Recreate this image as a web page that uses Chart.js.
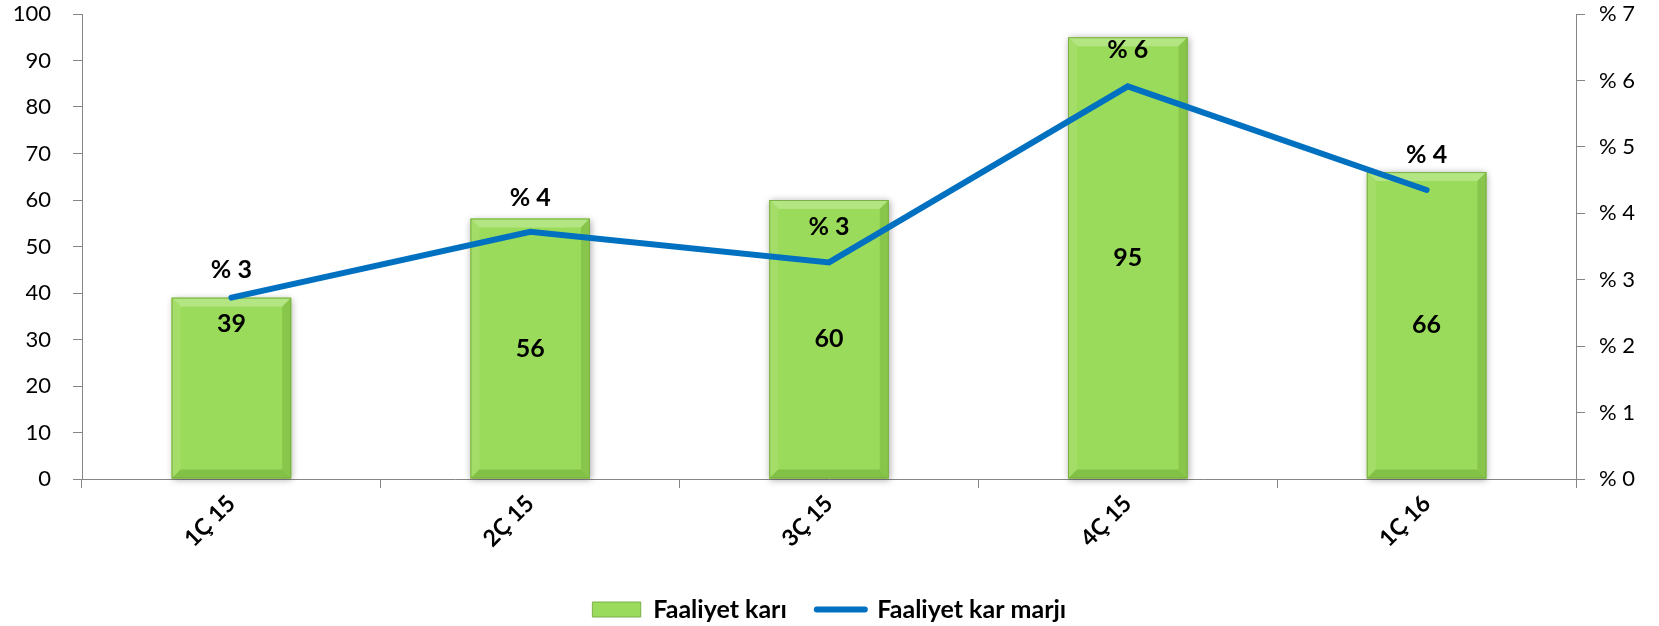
<!DOCTYPE html>
<html><head><meta charset="utf-8">
<script src="https://cdn.jsdelivr.net/npm/chart.js@4/dist/chart.umd.min.js"></script>
<style>html,body{margin:0;padding:0;background:#fff}#wrap{width:1659px;height:626px;position:relative}</style>
</head><body><div id="wrap"><canvas id="c"></canvas></div>
<script>
const categories = ['1Ç 15', '2Ç 15', '3Ç 15', '4Ç 15', '1Ç 16'];
const faaliyetKari = [39, 56, 60, 95, 66];
const faaliyetKarMarji = [2.73, 3.72, 3.26, 5.91, 4.35];
const marjiLabels = ['% 3', '% 4', '% 3', '% 6', '% 4'];
const leftTickValues = [0, 10, 20, 30, 40, 50, 60, 70, 80, 90, 100];
const rightTickLabels = ['% 0', '% 1', '% 2', '% 3', '% 4', '% 5', '% 6', '% 7'];
const seriesNames = ['Faaliyet karı', 'Faaliyet kar marjı'];

const FONT = 'Lato, "Open Sans", sans-serif';
const AXIS = '#868686';

const bevelPlugin = {
  id: 'bevel',
  beforeDatasetDraw(chart, args) {
    if (args.index !== 0) return;
    const ctx = chart.ctx;
    ctx.save();
    ctx.shadowColor = 'rgba(0,0,0,0.35)';
    ctx.shadowBlur = 7;
    ctx.shadowOffsetX = 1;
    ctx.shadowOffsetY = 1;
    ctx.fillStyle = '#9BDB5B';
    args.meta.data.forEach(bar => {
      const p = bar.getProps(['x', 'y', 'base', 'width'], true);
      ctx.fillRect(p.x - p.width / 2, p.y, p.width, p.base - p.y);
    });
    ctx.restore();
  },
  afterDatasetDraw(chart, args) {
    if (args.index !== 0) return;
    const ctx = chart.ctx;
    const poly = (pts, c) => {
      ctx.beginPath();
      ctx.moveTo(pts[0][0], pts[0][1]);
      for (let i = 1; i < pts.length; i++) ctx.lineTo(pts[i][0], pts[i][1]);
      ctx.closePath();
      ctx.fillStyle = c;
      ctx.fill();
    };
    ctx.save();
    args.meta.data.forEach(bar => {
      const p = bar.getProps(['x', 'y', 'base', 'width'], true);
      const l = p.x - p.width / 2, r = p.x + p.width / 2, t = p.y, b = p.base;
      const d = 9;
      poly([[l, t], [r, t], [r - d, t + d], [l + d, t + d]], '#B3E582');
      poly([[l, t], [l + d, t + d], [l + d, b - d], [l, b]], '#A4DE69');
      poly([[r, t], [r, b], [r - d, b - d], [r - d, t + d]], '#88C64B');
      poly([[l, b], [r, b], [r - d, b - d], [l + d, b - d]], '#82C046');
      ctx.strokeStyle = '#7DAF47';
      ctx.lineWidth = 1;
      ctx.strokeRect(l + 0.5, t + 0.5, p.width - 1, b - t - 1);
    });
    ctx.restore();
  }
};

const labelPlugin = {
  id: 'valueLabels',
  afterDatasetsDraw(chart, args, opts) {
    const ctx = chart.ctx;
    ctx.save();
    ctx.fillStyle = '#000';
    ctx.textAlign = 'center';
    ctx.textBaseline = 'middle';
    ctx.font = 'bold 25px ' + FONT;
    const barMeta = chart.getDatasetMeta(0);
    barMeta.data.forEach((bar, i) => {
      const p = bar.getProps(['x', 'y', 'base'], true);
      ctx.fillText(String(faaliyetKari[i]), p.x, (p.y + p.base) / 2 + opts.barShift[i]);
    });
    const lineMeta = chart.getDatasetMeta(1);
    lineMeta.data.forEach((pt, i) => {
      const p = pt.getProps(['x', 'y'], true);
      ctx.fillText(marjiLabels[i], p.x, p.y - opts.lineShift[i]);
    });
    ctx.restore();
  }
};

new Chart(document.getElementById('c'), {
  data: {
    labels: categories,
    datasets: [
      {
        type: 'bar',
        label: seriesNames[0],
        data: faaliyetKari,
        backgroundColor: '#9BDB5B',
        borderWidth: 0,
        barPercentage: 0.8,
        categoryPercentage: 0.5,
        yAxisID: 'y',
        order: 1
      },
      {
        type: 'line',
        label: seriesNames[1],
        data: faaliyetKarMarji,
        borderColor: '#0070C0',
        backgroundColor: '#0070C0',
        borderWidth: 6,
        borderCapStyle: 'round',
        borderJoinStyle: 'miter',
        pointRadius: 0,
        pointHoverRadius: 0,
        tension: 0,
        yAxisID: 'y1',
        order: 0
      }
    ]
  },
  options: {
    responsive: true,
    maintainAspectRatio: false,
    animation: false,
    layout: { padding: { top: 14, left: 0, right: 0, bottom: -6 } },
    plugins: {
      tooltip: { enabled: false },
      legend: {
        position: 'bottom',
        labels: {
          usePointStyle: true,
          pointStyleWidth: 48,
          boxHeight: 15,
          padding: 30,
          color: '#000',
          font: { family: FONT, size: 25, weight: 'bold' },
          generateLabels(chart) {
            return chart.data.datasets.map((ds, i) => ({
              text: ds.label,
              datasetIndex: i,
              pointStyle: i === 0 ? 'rect' : 'line',
              fillStyle: i === 0 ? '#9BDB5B' : '#0070C0',
              strokeStyle: i === 0 ? '#7DAF47' : '#0070C0',
              lineWidth: i === 0 ? 1 : 6,
              lineCap: 'round',
              fontColor: '#000',
              hidden: false
            }));
          }
        }
      },
      valueLabels: { barShift: [-64, 0, 0, 0, 0], lineShift: [28, 34, 36, 36, 35] }
    },
    scales: {
      x: {
        offset: true,
        grid: { display: true, drawOnChartArea: false, offset: true, tickLength: 9, color: AXIS },
        border: { color: AXIS, width: 1 },
        ticks: {
          maxRotation: 45, minRotation: 45, padding: 2,
          color: '#000',
          font: { family: FONT, size: 23, weight: 'bold' }
        },
        afterFit(s) { s.height = 88; }
      },
      y: {
        position: 'left',
        min: 0, max: 100,
        afterBuildTicks(s) { s.ticks = leftTickValues.map(v => ({ value: v })); },
        grid: { display: true, drawOnChartArea: false, tickLength: 9, color: AXIS },
        border: { color: AXIS, width: 1 },
        ticks: { color: '#000', padding: 22, font: { family: FONT, size: 22 } },
        afterFit(s) { s.width = 82; s.paddingTop = 0; s.paddingBottom = 0; }
      },
      y1: {
        position: 'right',
        min: 0, max: 7,
        afterBuildTicks(s) { s.ticks = rightTickLabels.map((t, i) => ({ value: i })); },
        grid: { display: true, drawOnChartArea: false, tickLength: 9, color: AXIS },
        border: { color: AXIS, width: 1 },
        ticks: {
          color: '#000', padding: 14, font: { family: FONT, size: 22 },
          callback: (v) => rightTickLabels[v]
        },
        afterFit(s) { s.width = 83; s.paddingTop = 0; s.paddingBottom = 0; }
      }
    }
  },
  plugins: [bevelPlugin, labelPlugin]
});
</script>
</body></html>
